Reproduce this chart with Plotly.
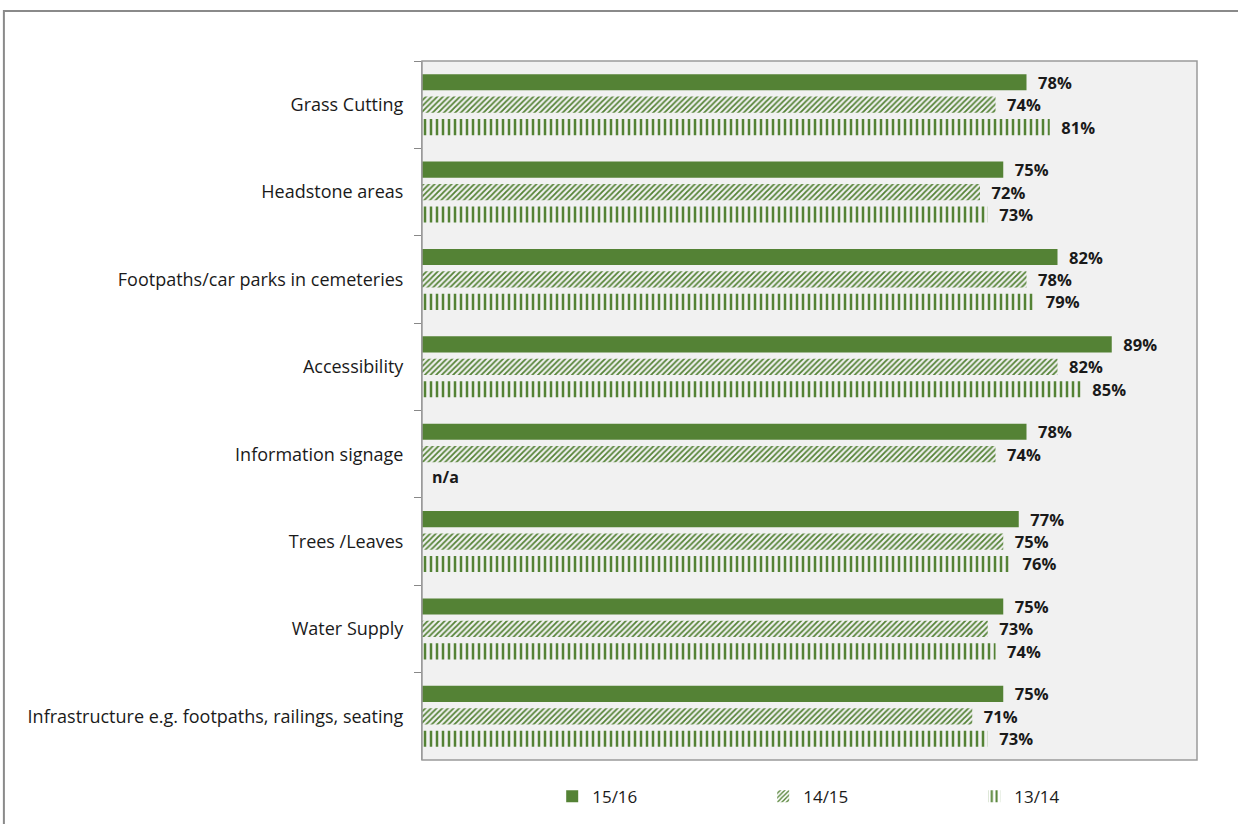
import plotly.graph_objects as go

categories = [
    "Grass Cutting",
    "Headstone areas",
    "Footpaths/car parks in cemeteries",
    "Accessibility",
    "Information signage",
    "Trees /Leaves",
    "Water Supply",
    "Infrastructure e.g. footpaths, railings, seating",
]
series_names = ["15/16", "14/15", "13/14"]
values_1516 = [78, 75, 82, 89, 78, 77, 75, 75]
values_1415 = [74, 72, 78, 82, 74, 75, 73, 71]
values_1314 = [81, 73, 79, 85, None, 76, 74, 73]

GREEN = "#548235"
FONT = "Open Sans"
PLOT_BG = "#f1f1f1"
TEXT = "#1a1a1a"

fig = go.Figure()

patterns = [
    dict(shape=""),
    dict(shape="/", size=4, solidity=0.45, fgcolor=GREEN, bgcolor="rgba(0,0,0,0)", fillmode="replace"),
    dict(shape="|", size=6, solidity=0.42, fgcolor=GREEN, bgcolor="rgba(0,0,0,0)", fillmode="replace"),
]

for name, vals, pat in zip(series_names, [values_1516, values_1415, values_1314], patterns):
    fig.add_trace(go.Bar(
        name=name,
        y=categories,
        x=vals,
        orientation="h",
        marker=dict(color=GREEN, line=dict(width=0), pattern=pat),
        text=["\u00a0\u00a0" + f"{v}%" if v is not None else "" for v in vals],
        textposition="outside",
        textfont=dict(family=FONT, size=16.5, color=TEXT, weight="bold"),
        constraintext="none",
        cliponaxis=False,
    ))

# 13/14 has no value for Information signage
for cat, v in zip(categories, values_1314):
    if v is None:
        fig.add_annotation(
            x=0, y=cat, xref="x", yref="y",
            text="<b>n/a</b>", showarrow=False,
            xanchor="left", xshift=8, yshift=-23,
            font=dict(family=FONT, size=16, color=TEXT),
        )

fig.update_layout(
    width=1238, height=824,
    margin=dict(l=422, r=41, t=61, b=64, autoexpand=False),
    paper_bgcolor="white",
    plot_bgcolor=PLOT_BG,
    barmode="group",
    bargap=0.23,
    bargroupgap=0.28,
    font=dict(family=FONT, size=16, color=TEXT),
    legend=dict(
        orientation="h",
        x=0.168, xanchor="left",
        yref="container", y=0.033, yanchor="middle",
        entrywidth=166,
        font=dict(family=FONT, size=17, color=TEXT),
        itemwidth=30,
    ),
    showlegend=True,
)

fig.update_xaxes(range=[0, 100], showgrid=False, showticklabels=False, zeroline=False,
                 showline=False, ticks="")
fig.update_yaxes(autorange="reversed", showgrid=False, ticks="outside", tickson="boundaries",
                 ticklen=7, tickcolor="#888888", showline=True, linecolor="#999999", linewidth=1,
                 ticklabelstandoff=14, tickfont=dict(family=FONT, size=18, color=TEXT))

# plot-area frame
fig.add_shape(type="rect", xref="paper", yref="paper", x0=0, x1=1, y0=0, y1=1,
              line=dict(color="#9a9a9a", width=1.5), fillcolor="rgba(0,0,0,0)", layer="above")
# outer chart frame
fig.add_shape(type="rect", xref="paper", yref="paper", x0=-0.5395, x1=1.2, y0=-0.2, y1=1.0715,
              line=dict(color="#8a8a8a", width=2), fillcolor="rgba(0,0,0,0)")

fig.write_html("out.html")
